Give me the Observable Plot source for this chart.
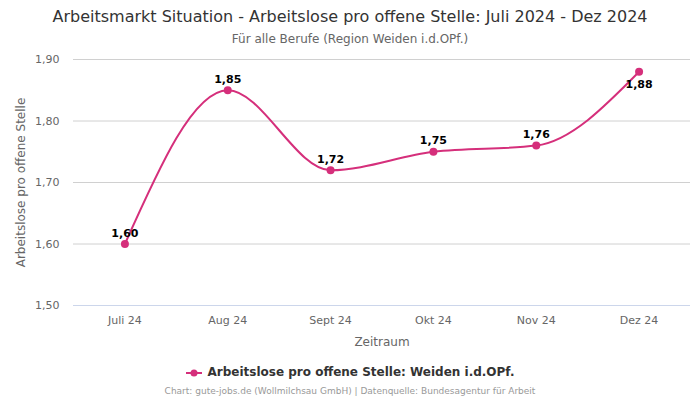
<!DOCTYPE html>
<html><head><meta charset="utf-8">
<script src="https://cdn.jsdelivr.net/npm/d3@7"></script>
<script src="https://cdn.jsdelivr.net/npm/@observablehq/plot@0.6"></script>
<style>
body{margin:0;width:700px;height:400px;background:#fff;font-family:"DejaVu Sans",sans-serif;position:relative;overflow:hidden}
#title{position:absolute;top:7px;left:0;width:700px;text-align:center;font-size:16px;color:#333}
#sub{position:absolute;top:32px;left:0;width:700px;text-align:center;font-size:12px;color:#666}
#chart{position:absolute;top:45px;left:0}
#legend{position:absolute;top:365px;left:0;width:700px;text-align:center;font-size:12px;font-weight:bold;color:#333}
#legend svg{vertical-align:-2px;margin-right:6px}
#cap{position:absolute;top:386px;left:0;width:700px;text-align:center;font-size:9px;color:#999}
</style></head>
<body>
<div id="title">Arbeitsmarkt Situation - Arbeitslose pro offene Stelle: Juli 2024 - Dez 2024</div>
<div id="sub">Für alle Berufe (Region Weiden i.d.OPf.)</div>
<div id="chart"></div>
<div id="legend"><svg width="16" height="10"><line x1="0" y1="5" x2="16" y2="5" stroke="#d52f7b" stroke-width="2"/><circle cx="8" cy="5" r="3.5" fill="#d52f7b"/></svg>Arbeitslose pro offene Stelle: Weiden i.d.OPf.</div>
<div id="cap">Chart: gute-jobs.de (Wollmilchsau GmbH) | Datenquelle: Bundesagentur für Arbeit</div>
<script>
const months = ["Juli 24","Aug 24","Sept 24","Okt 24","Nov 24","Dez 24"];
const values = [1.60,1.85,1.72,1.75,1.76,1.88];
const yTicks = [1.5,1.6,1.7,1.8,1.9];
const color = "#d52f7b";
const data = months.map((m,i)=>({m, v: values[i], i}));
const fmt = d => d.toFixed(2).replace(".", ",");
const last = data.length - 1;
const chart = Plot.plot({
  width: 700, height: 310,
  marginLeft: 73, marginRight: 10, marginTop: 14, marginBottom: 50,
  style: {fontFamily: "DejaVu Sans, sans-serif", fontSize: "11px", color: "#666"},
  x: {type: "point", domain: months, padding: 0.5, round: false, label: null},
  y: {domain: [1.5, 1.9], label: null},
  marks: [
    Plot.ruleY(yTicks.slice(1), {stroke: "#d0d0d0", strokeWidth: 1}),
    Plot.ruleY([1.5], {stroke: "#ccd6eb", strokeWidth: 1}),
    Plot.axisY({ticks: yTicks, tickFormat: fmt, tickSize: 0, tickPadding: 14, fill: "#666", fontSize: 11, label: null}),
    Plot.axisX({tickSize: 0, tickPadding: 11, fill: "#666", fontSize: 11, label: null}),
    Plot.text(["Zeitraum"], {frameAnchor: "bottom", dy: 40, fill: "#666", fontSize: 12}),
    Plot.text(["Arbeitslose pro offene Stelle"], {frameAnchor: "left", textAnchor: "middle", rotate: -90, dx: -52, fill: "#666", fontSize: 12}),
    Plot.line(data, {x: "m", y: "v", stroke: color, strokeWidth: 2, curve: "monotone-x"}),
    Plot.dot(data, {x: "m", y: "v", fill: color, r: 4}),
    Plot.text(data.filter(d => d.i < last), {x: "m", y: "v", text: d => fmt(d.v), dy: -11, fill: "#000", fontWeight: "bold", fontSize: 11}),
    Plot.text(data.filter(d => d.i === last), {x: "m", y: "v", text: d => fmt(d.v), dy: 13, fill: "#000", fontWeight: "bold", fontSize: 11})
  ]
});
document.getElementById("chart").appendChild(chart);
</script>
</body></html>
